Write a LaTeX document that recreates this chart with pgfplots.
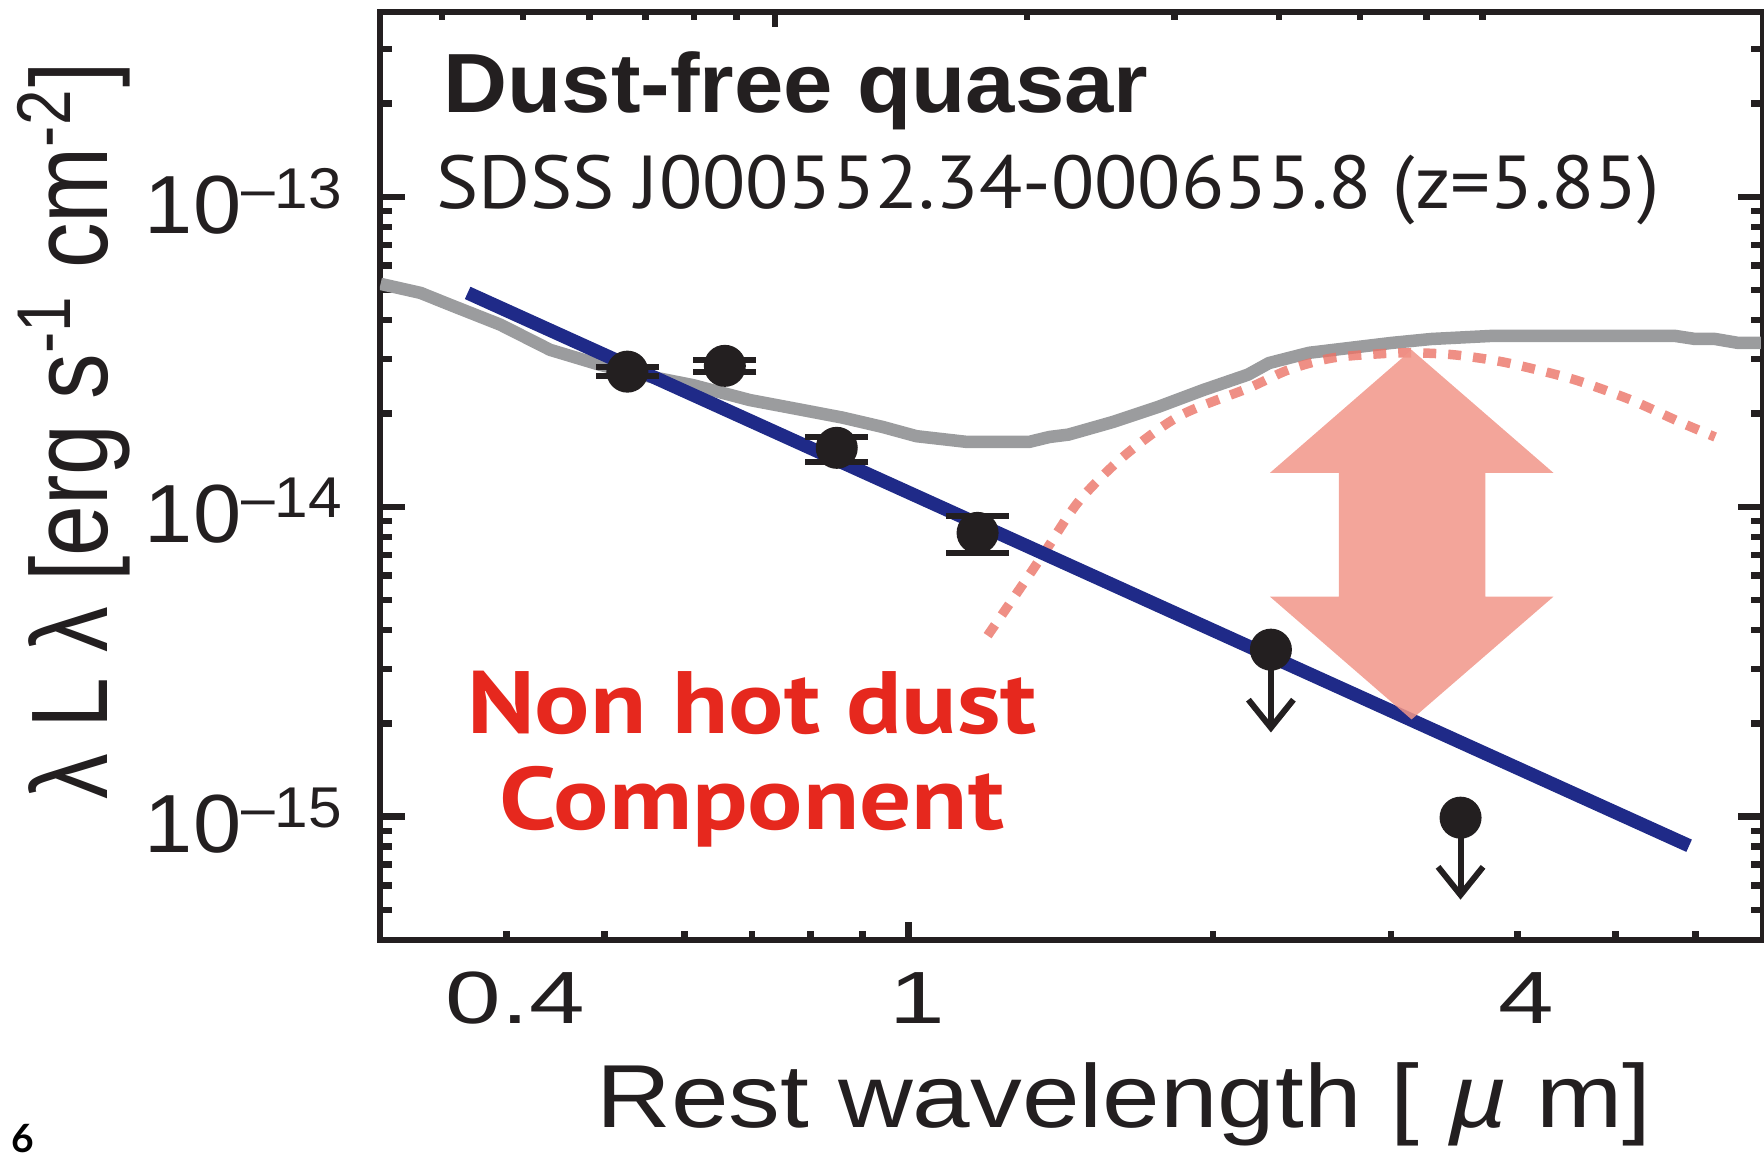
\documentclass[border=0pt]{standalone}
\usepackage{pgfplots}
\pgfplotsset{compat=1.18}
\usepackage{fontspec}
\setmainfont{Liberation Sans}
\newfontfamily\myriadlike{PT Sans}
\newfontfamily\panelfont{Lato}
\usetikzlibrary{arrows.meta}

\definecolor{ink}{RGB}{35,31,32}
\definecolor{templgray}{RGB}{155,156,158}
\definecolor{plblue}{RGB}{31,42,136}
\definecolor{dustred}{RGB}{235,115,102}
\definecolor{gappink}{RGB}{241,149,136}
\definecolor{notered}{RGB}{230,40,30}

% tick label helpers
\newcommand\pten[1]{\resizebox{39.4pt}{\height}{\fontsize{16.5}{16.5}\selectfont 10\raisebox{5pt}{\fontsize{11.5}{11.5}\selectfont –#1}}}
\newcommand\xtl[1]{\scalebox{1.35}[1]{\fontsize{14.8}{14.8}\selectfont #1}}

% common frame shared by the stacked axes
\pgfplotsset{every axis/.append style={
    scale only axis, width=276.6pt, height=185.6pt,
    at={(0pt,0pt)}, anchor=south west,
    xmode=log, ymode=log,
    xmin=0.3, xmax=7, ymin=4e-16, ymax=3.95e-13,
    axis line style={ink, line width=1.3pt},
    tick style={ink, line width=1.3pt},
    tick align=inside,
}}

\begin{document}
\begin{tikzpicture}
\useasboundingbox (-76pt,-43.6pt) rectangle (276.8pt,188pt);

% main panel: data and the y axis
\begin{axis}[
  xtick=\empty, xminorticks=false,
  ytick={1e-15,1e-14,1e-13},
  yticklabels={\pten{15},\pten{14},\pten{13}},
  minor ytick={5e-16,6e-16,7e-16,8e-16,9e-16,
               2e-15,3e-15,4e-15,5e-15,6e-15,7e-15,8e-15,9e-15,
               2e-14,3e-14,4e-14,5e-14,6e-14,7e-14,8e-14,9e-14,
               2e-13,3e-13},
  major tick length=5pt, minor tick length=2.4pt,
  yticklabel style={anchor=east, inner sep=0pt, xshift=-7.4pt, yshift=-0.8pt, text=ink},
]
% quasar template
\addplot[templgray, line width=2.5pt, line join=round] coordinates {
 (0.3004,5.24e-14) (0.3291,4.90e-14) (0.3523,4.48e-14) (0.3947,3.87e-14)
 (0.4420,3.21e-14) (0.4955,2.87e-14) (0.5549,2.63e-14) (0.6118,2.47e-14)
 (0.6967,2.21e-14) (0.7630,2.09e-14) (0.8605,1.94e-14) (0.9426,1.81e-14)
 (1.018,1.69e-14) (1.141,1.62e-14) (1.316,1.62e-14) (1.378,1.68e-14)
 (1.439,1.71e-14) (1.594,1.88e-14) (1.765,2.10e-14) (1.955,2.38e-14)
 (2.166,2.67e-14) (2.272,2.91e-14) (2.489,3.14e-14) (3.005,3.38e-14)
 (3.291,3.48e-14) (3.771,3.56e-14) (5.73,3.56e-14) (5.997,3.48e-14)
 (6.275,3.48e-14) (6.612,3.38e-14) (6.966,3.38e-14)
};
% hot dust component
\addplot[dustred, opacity=0.8, line width=1.9pt, dash pattern=on 2.6pt off 2.4pt, smooth] coordinates {
 (1.197,3.84e-15) (1.296,5.60e-15) (1.368,7.27e-15) (1.475,1.046e-14)
 (1.634,1.46e-14) (1.856,1.97e-14) (2.171,2.42e-14) (2.377,2.77e-14)
 (2.622,3.02e-14) (2.937,3.12e-14) (3.172,3.14e-14) (3.475,3.09e-14)
 (3.858,2.94e-14) (4.294,2.71e-14) (4.628,2.53e-14) (5.185,2.21e-14)
 (5.808,1.87e-14) (6.276,1.68e-14)
};
% power-law accretion disk
\addplot[plblue, line width=2.7pt] coordinates {(0.3663,4.90e-14) (5.915,8.06e-16)};
% photometry
\addplot[ink, only marks, mark=*, mark size=4pt,
  error bars/y dir=both, error bars/y explicit,
  error bars/error bar style={line width=1.2pt},
  error bars/error mark options={rotate=90, line width=1.2pt, mark size=6.3pt}] coordinates {
 (0.527,2.73e-14) += (0,0.10e-14) -= (0,0.08e-14)
 (0.658,2.85e-14) += (0,0.13e-14) -= (0,0.12e-14)
 (0.849,1.55e-14) += (0,0.13e-14) -= (0,0.16e-14)
 (1.170,8.24e-15) += (0,1.11e-15) -= (0,1.13e-15)
};
% upper limits
\addplot[ink, only marks, mark=*, mark size=4pt] coordinates {(2.282,3.46e-15) (3.515,9.93e-16)};
\addplot[ink, line width=1.2pt, -{Straight Barb[length=5.6pt,width=9pt]}] coordinates {(2.282,3.46e-15) (2.282,1.87e-15)};
\addplot[ink, line width=1.2pt, -{Straight Barb[length=5.6pt,width=9pt]}] coordinates {(3.515,9.93e-16) (3.515,5.4e-16)};
% gap between the disk and the expected hot dust emission
\addplot[draw=none, fill=gappink, fill opacity=0.85] coordinates {
 (3.144,3.21e-14) (4.343,1.287e-14) (3.720,1.287e-14) (3.720,5.13e-15)
 (4.343,5.13e-15) (3.144,2.06e-15) (2.277,5.13e-15) (2.664,5.13e-15)
 (2.664,1.287e-14) (2.277,1.287e-14) (3.144,3.21e-14)
} -- cycle;
\end{axis}

% bottom ticks and labels
\begin{axis}[hide y axis,
  xtick={0.4,1,4}, xticklabels={\xtl{0.4},\xtl{1},\xtl{4}},
  minor xtick={0.5,0.6,0.7,0.8,0.9,2,3,5,6,7},
  xtick pos=left,
  major tick length=1.8pt, minor tick length=1.8pt,
  xticklabel style={anchor=base, inner sep=0pt, xshift=1.8pt, yshift=-16.6pt, text=ink},
]
\end{axis}
% long tick at 1
\begin{axis}[hide y axis,
  xtick={1}, xticklabels={}, xminorticks=false,
  xtick pos=left, major tick length=3.7pt,
]
\end{axis}
% top ticks
\begin{axis}[hide y axis,
  xmin=0.3374, xmax=15.15,
  xtick={1}, xticklabels={},
  minor xtick={0.4,0.5,0.6,0.7,0.8,0.9,2,3,4,5,6,7},
  xtick pos=right,
  major tick length=3pt, minor tick length=1.5pt,
]
\end{axis}

% annotations
\node[anchor=base west, inner sep=0pt, text=ink] at (12.5pt,165.5pt)
  {\resizebox{141pt}{\height}{\fontsize{16.8}{16.8}\selectfont\bfseries Dust-free quasar}};
\node[anchor=base west, inner sep=0pt, text=ink] at (11pt,146.2pt)
  {\resizebox{244.8pt}{\height}{\fontsize{15}{15}\selectfont\myriadlike SDSS J000552.34-000655.8 (z=5.85)}};
\node[anchor=base, inner sep=0pt, text=notered] at (74.4pt,41.3pt)
  {\resizebox{114pt}{\height}{\fontsize{17.7}{19.2}\selectfont\myriadlike\bfseries
   \begin{tabular}[t]{@{}c@{}}Non hot dust\\Component\end{tabular}}};

% axis titles
\node[anchor=base, inner sep=0pt, text=ink] at (148.8pt,-37.6pt)
  {\resizebox{211pt}{\height}{\fontsize{17.9}{17.9}\selectfont Rest wavelength [ {\itshape µ} m]}};
\node[anchor=base, inner sep=0pt, text=ink, rotate=90] at (-54.4pt,101.8pt)
  {\scalebox{1}[1.21]{\resizebox{147.4pt}{\height}{\fontsize{18}{18}\selectfont λ L λ [erg s\textsuperscript{-1} cm\textsuperscript{-2}]}}};

\node[anchor=base west, inner sep=0pt, text=black] at (-73.8pt,-42.6pt)
  {\fontsize{7.8}{7.8}\selectfont\panelfont\bfseries 6};
\end{tikzpicture}
\end{document}
